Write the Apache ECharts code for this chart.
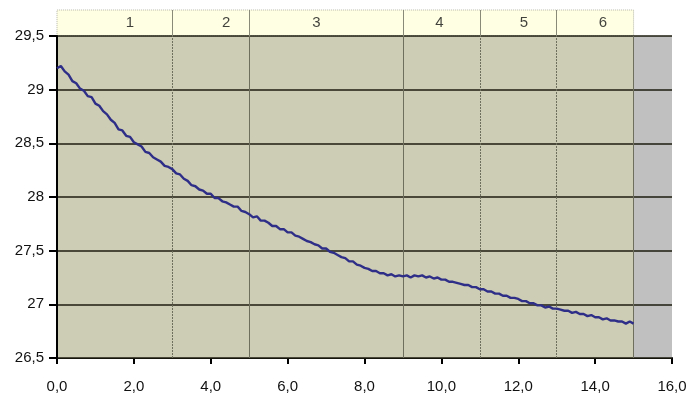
<!DOCTYPE html>
<html><head><meta charset="utf-8">
<script src="https://cdn.jsdelivr.net/npm/echarts@6/dist/echarts.min.js"></script>
<style>html,body{margin:0;padding:0;background:#fff}#c{width:692px;height:399px}</style>
</head><body><div id="c"></div>
<script>
// time samples (min): start and step of the recorded series
const timeStart = 0.0;
const timeStep = 0.1;
// temperature readings, one every 0.1 min from 0.0 to 15.0
const temps = [
 29.20,29.22,29.17,29.14,29.08,29.06,29.01,28.99,28.94,28.93,
 28.87,28.85,28.80,28.77,28.72,28.69,28.63,28.62,28.57,28.56,
 28.51,28.49,28.47,28.42,28.41,28.37,28.35,28.33,28.29,28.28,
 28.26,28.22,28.21,28.17,28.15,28.11,28.10,28.07,28.06,28.03,
 28.03,27.99,27.99,27.96,27.95,27.93,27.91,27.91,27.87,27.86,
 27.84,27.81,27.82,27.78,27.78,27.76,27.73,27.73,27.70,27.70,
 27.67,27.67,27.64,27.63,27.61,27.59,27.58,27.56,27.55,27.52,
 27.52,27.49,27.48,27.46,27.44,27.43,27.40,27.40,27.37,27.36,
 27.34,27.33,27.31,27.31,27.29,27.29,27.27,27.28,27.26,27.27,
 27.26,27.27,27.25,27.27,27.26,27.27,27.25,27.26,27.24,27.25,
 27.23,27.23,27.21,27.21,27.20,27.19,27.18,27.18,27.16,27.16,
 27.14,27.14,27.12,27.12,27.10,27.10,27.08,27.08,27.06,27.06,
 27.05,27.03,27.03,27.01,27.01,26.99,26.99,26.97,26.98,26.96,
 26.96,26.95,26.94,26.94,26.92,26.93,26.91,26.91,26.89,26.90,
 26.88,26.88,26.86,26.87,26.85,26.85,26.84,26.84,26.82,26.84,
 26.82
];
// phase boundaries (min) and phase names
const phaseBounds = [0, 3, 5, 9, 11, 13, 15];
const phaseNames = ['1', '2', '3', '4', '5', '6'];
const phaseLabelX = [1.9, 4.4, 6.75, 9.95, 12.15, 14.2];
const boundaryDotted = [true, false, false, true, true, false];
const xTicks = [0, 2, 4, 6, 8, 10, 12, 14, 16];
const yTicks = [26.5, 27, 27.5, 28, 28.5, 29, 29.5];

const FONT = '"Liberation Sans",Arial,sans-serif';
const lineData = temps.map((v, i) => [+(timeStart + i * timeStep).toFixed(2), v]);
const lastPhase = phaseBounds[phaseBounds.length - 1];

const chart = echarts.init(document.getElementById('c'), null, {renderer: 'canvas'});
chart.setOption({
  animation: false,
  backgroundColor: '#ffffff',
  grid: [
    {left: 57, right: 20, top: 36, bottom: 41, containLabel: false},
    {left: 57, right: 20, top: 10, height: 26, containLabel: false}
  ],
  xAxis: [
    {gridIndex: 0, type: 'value', min: xTicks[0], max: xTicks[xTicks.length - 1], interval: 2,
     axisLine: {show: true, lineStyle: {color: '#000', width: 2}},
     axisTick: {show: true, length: 6, lineStyle: {color: '#000', width: 2}},
     splitLine: {show: false},
     axisLabel: {margin: 21, color: '#111', fontFamily: FONT, fontSize: 15,
       formatter: v => v.toFixed(1).replace('.', ',')}},
    {gridIndex: 1, type: 'value', min: 0, max: 16, show: false}
  ],
  yAxis: [
    {gridIndex: 0, type: 'value', min: yTicks[0], max: yTicks[yTicks.length - 1], interval: 0.5, z: 3,
     axisLine: {show: true, lineStyle: {color: '#000', width: 2}},
     axisTick: {show: true, length: 8, lineStyle: {color: '#000', width: 2}},
     splitLine: {show: true, lineStyle: {color: '#1c1c10', width: 1.5}},
     axisLabel: {margin: 13, color: '#111', fontFamily: FONT, fontSize: 15,
       formatter: v => String(+v.toFixed(1)).replace('.', ',')}},
    {gridIndex: 1, type: 'value', min: 0, max: 1, show: false}
  ],
  series: [
    {type: 'line', xAxisIndex: 0, yAxisIndex: 0, data: [], z: 1, silent: true,
     markArea: {silent: true, data: [
       [{xAxis: phaseBounds[0], itemStyle: {color: '#cdccb4'}}, {xAxis: lastPhase}],
       [{xAxis: lastPhase, itemStyle: {color: '#c0c0c0'}}, {xAxis: xTicks[xTicks.length - 1]}]
     ]}},
    {type: 'line', xAxisIndex: 0, yAxisIndex: 0, data: [], z: 2, silent: true,
     markLine: {silent: true, symbol: 'none', label: {show: false},
       data: phaseBounds.slice(1).map((b, i) => ({xAxis: b,
         lineStyle: {color: '#6f6f5e', width: 1, type: boundaryDotted[i] ? [2, 1] : 'solid'}}))}},
    {type: 'line', xAxisIndex: 1, yAxisIndex: 1, data: [], z: 1, silent: true,
     markArea: {silent: true, itemStyle: {color: '#ffffe4', borderColor: '#b5b5a8', borderWidth: 1, borderType: 'dotted'},
       data: [[{xAxis: phaseBounds[0]}, {xAxis: lastPhase}]]},
     markLine: {silent: true, symbol: 'none', label: {show: false},
       lineStyle: {color: '#8a8a78', width: 1, type: 'solid'},
       data: phaseBounds.slice(1, -1).map(b => ({xAxis: b}))}},
    {type: 'scatter', xAxisIndex: 1, yAxisIndex: 1, z: 4, silent: true,
     symbolSize: 2, itemStyle: {color: 'rgba(0,0,0,0)'},
     label: {show: true, position: 'inside', formatter: p => phaseNames[p.dataIndex],
       color: '#111', fontFamily: FONT, fontSize: 15},
     data: phaseLabelX.map(x => [x, 0.5])},
    {type: 'line', xAxisIndex: 0, yAxisIndex: 0, z: 5, showSymbol: false, symbol: 'none',
     lineStyle: {color: '#2e2e88', width: 2.4}, data: lineData}
  ]
});
</script></body></html>
